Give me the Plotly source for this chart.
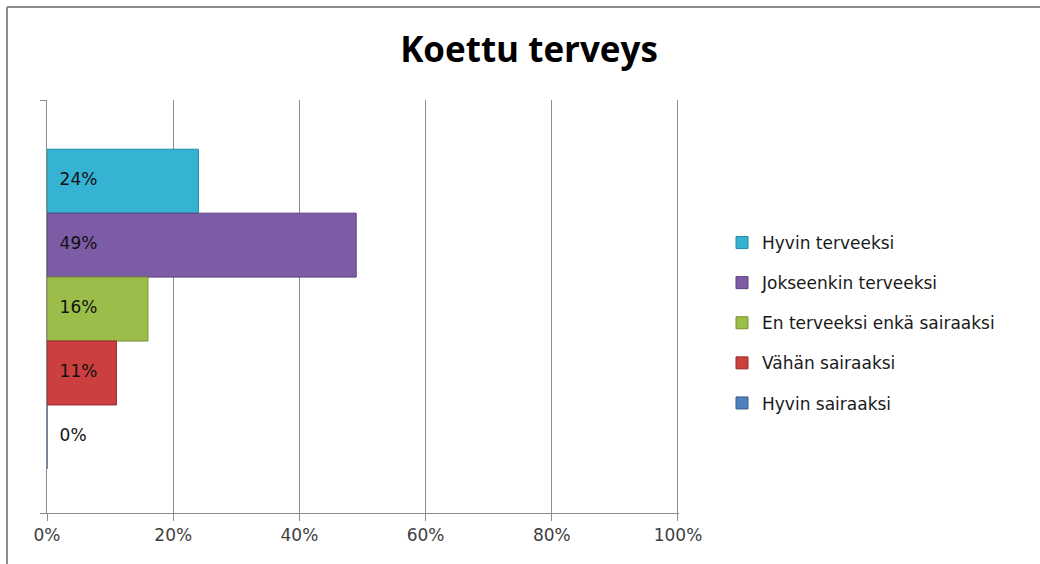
import plotly.graph_objects as go

title = "Koettu terveys"
categories = ["Hyvin terveeksi", "Jokseenkin terveeksi", "En terveeksi enkä sairaaksi",
              "Vähän sairaaksi", "Hyvin sairaaksi"]
values = [0.24, 0.49, 0.16, 0.11, 0.00]
colors = ["#36B3D3", "#7D5CA6", "#9BBD4A", "#CB3F3F", "#4F81BD"]
edge_colors = ["#1F8CA8", "#5B3F80", "#77942F", "#9C2A2A", "#385D8A"]
x_ticks = [0, 0.2, 0.4, 0.6, 0.8, 1.0]
x_tick_labels = ["0%", "20%", "40%", "60%", "80%", "100%"]

n = len(categories)
positions = [n - 1 - i for i in range(n)]

fig = go.Figure()
for i, (cat, v) in enumerate(zip(categories, values)):
    fig.add_trace(go.Bar(
        x=[v], y=[positions[i]], orientation="h", width=1,
        name=cat, legendgroup=cat,
        marker=dict(color=colors[i], line=dict(color=edge_colors[i], width=1)),
        hoverinfo="name+x",
    ))

fig.add_trace(go.Scatter(
    x=[0.02] * n, y=positions, mode="text",
    text=[f"{round(v * 100)}%" for v in values],
    textposition="middle right",
    textfont=dict(family="DejaVu Sans", size=17, color="#111111"),
    showlegend=False, hoverinfo="skip",
))

L, R, T, B = 47, 679, 100, 513
W, H = 1040, 564
ylo, yhi = -1.19, 5.27

def px(xp):
    return (xp - L) / (R - L)

def py(yp):
    return (B - yp) / (B - T)

fig.update_layout(
    width=W, height=H,
    margin=dict(l=L, r=W - R, t=T, b=H - B, pad=0),
    paper_bgcolor="white", plot_bgcolor="white",
    barmode="overlay",
    title=dict(text=title, x=529 / W, xanchor="center", y=1 - 50 / H, yanchor="middle",
               xref="container", yref="container",
               font=dict(family="Open Sans", size=35, color="black", weight=700)),
    xaxis=dict(range=[0, 1.0016], tickvals=x_ticks, ticktext=x_tick_labels,
               showgrid=True, gridcolor="#8C8C8C", gridwidth=1,
               showline=True, linecolor="#8C8C8C", linewidth=1,
               ticks="outside", ticklen=7, tickcolor="#8C8C8C",
               tickfont=dict(family="DejaVu Sans", size=17, color="#404040"),
               zeroline=False, fixedrange=True),
    yaxis=dict(range=[ylo, yhi], tickvals=[ylo, yhi], showticklabels=False,
               showgrid=False, zeroline=False,
               showline=True, linecolor="#8C8C8C", linewidth=1,
               ticks="outside", ticklen=6, tickcolor="#8C8C8C", fixedrange=True),
    legend=dict(x=px(722), xanchor="left", y=py(323), yanchor="middle",
                traceorder="grouped", tracegroupgap=15,
                font=dict(family="DejaVu Sans", size=17, color="#1a1a1a"),
                bgcolor="rgba(0,0,0,0)"),
    shapes=[
        dict(type="line", xref="paper", yref="paper", x0=px(7), x1=px(1040), y0=py(7), y1=py(7),
             line=dict(color="#8C8C8C", width=2)),
        dict(type="line", xref="paper", yref="paper", x0=px(7), x1=px(7), y0=py(7), y1=py(564),
             line=dict(color="#8C8C8C", width=2)),
    ],
    showlegend=True,
)

fig.write_html("out.html")
